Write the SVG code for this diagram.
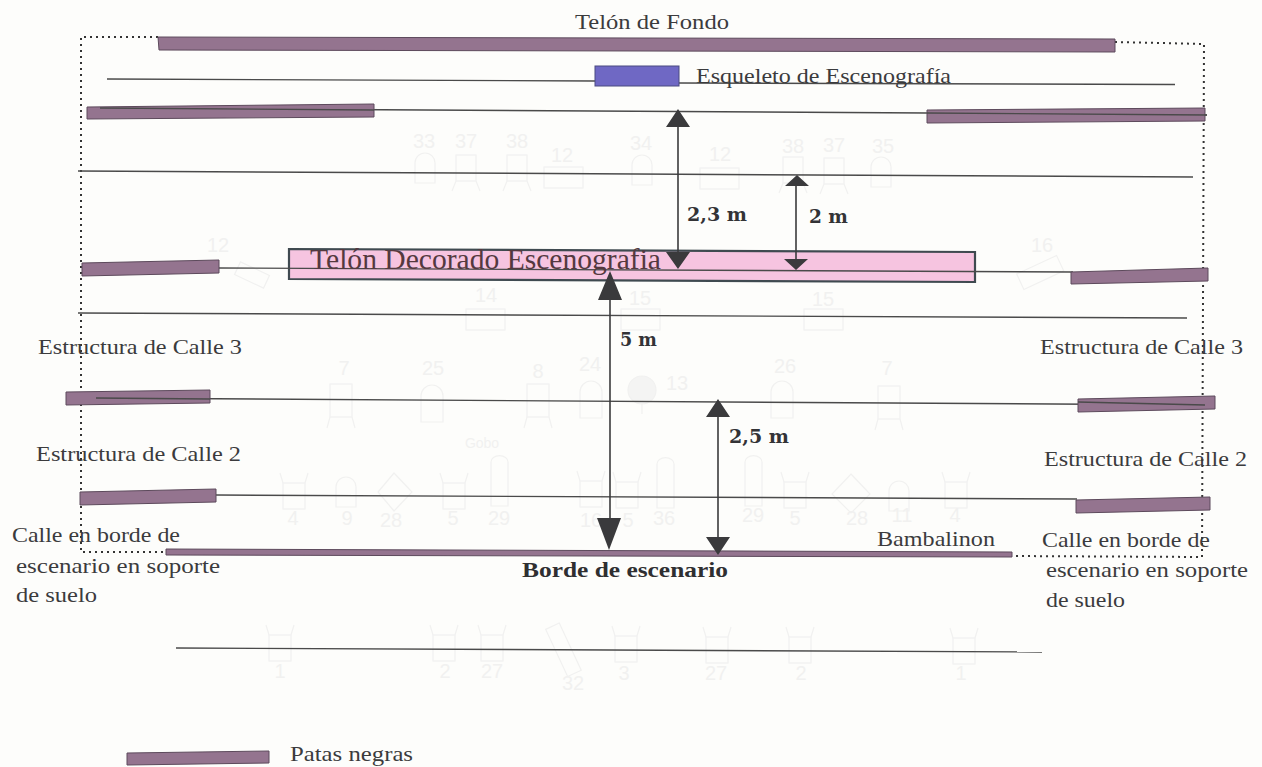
<svg xmlns="http://www.w3.org/2000/svg" xmlns:xlink="http://www.w3.org/1999/xlink" width="1262" height="767" viewBox="0 0 1262 767">
<style>
.t{font-family:"Liberation Serif","DejaVu Serif",serif;font-size:22px;fill:#3b3b3d}
.b{font-family:"DejaVu Serif","Liberation Serif",serif;font-weight:bold;font-size:18px;fill:#333336}
.g{font-family:"Liberation Sans",Arial,sans-serif;font-size:20px;fill:#f1f1f0;text-anchor:middle}
.gs{fill:none;stroke:#f1f1f0;stroke-width:1.2}
.pata{fill:#94748f;stroke:#5d4a5c;stroke-width:1}
.line{fill:none;stroke:#4a4a4a;stroke-width:1.4}
.dot{fill:none;stroke:#333;stroke-width:2;stroke-dasharray:2 4}
.arr{fill:none;stroke:#3a3a3c;stroke-width:1.6}
.head{fill:#3a3a3c}
</style>
<defs>
<g id="chair" class="gs"><rect x="0" y="0" width="22" height="26"/><path d="M0 0L-3 -10M22 0L25 -10"/></g>
<g id="chairb" class="gs"><rect x="0" y="0" width="20" height="26"/><path d="M0 26L-4 36M20 26L24 36"/></g>
<g id="chairc" class="gs"><rect x="0" y="0" width="22" height="33"/><path d="M0 33L-3 44M22 33L25 44"/></g>
<g id="round" class="gs"><path d="M0 30V10A10 10 0 0 1 20 10V30Z"/></g>
<g id="roundb" class="gs"><path d="M0 37V11A11 11 0 0 1 22 11V37Z"/></g>
<g id="box" class="gs"><rect x="0" y="0" width="39" height="21"/></g>
<g id="tall" class="gs"><path d="M0 50V6A8 6 0 0 1 17 6V50Z"/></g>
</defs>
<rect width="1262" height="767" fill="#fdfdfb"/>

<g id="ghost-plot">
<g class="g">
<text x="424" y="148">33</text><text x="466" y="148">37</text><text x="517" y="148">38</text><text x="562" y="162">12</text><text x="641" y="150">34</text><text x="720" y="161">12</text><text x="793" y="153">38</text><text x="834" y="152">37</text><text x="883" y="153">35</text>
<text x="218" y="252">12</text><text x="1042" y="252">16</text>
<text x="486" y="302">14</text><text x="640" y="305">15</text><text x="823" y="306">15</text>
<text x="344" y="375">7</text><text x="433" y="375">25</text><text x="538" y="378">8</text><text x="590" y="371">24</text><text x="677" y="390">13</text><text x="785" y="373">26</text><text x="887" y="375">7</text>
<text x="482" y="448" style="font-size:14px">Gobo</text>
<text x="293" y="525">4</text><text x="347" y="525">9</text><text x="391" y="527">28</text><text x="453" y="525">5</text><text x="499" y="525">29</text><text x="591" y="527">16</text><text x="628" y="527">5</text><text x="664" y="525">36</text><text x="753" y="522">29</text><text x="795" y="525">5</text><text x="857" y="525">28</text><text x="902" y="522">11</text><text x="955" y="522">4</text>
<text x="280" y="678">1</text><text x="445" y="678">2</text><text x="492" y="678">27</text><text x="573" y="690">32</text><text x="624" y="680">3</text><text x="716" y="680">27</text><text x="801" y="680">2</text><text x="961" y="680">1</text>
</g>
<use xlink:href="#round" x="415" y="153"/><use xlink:href="#chairb" x="456" y="155"/><use xlink:href="#chairb" x="507" y="155"/><use xlink:href="#box" x="544" y="167"/><use xlink:href="#round" x="632" y="155"/><use xlink:href="#box" x="700" y="168"/><use xlink:href="#chairb" x="783" y="157"/><use xlink:href="#chairb" x="824" y="158"/><use xlink:href="#round" x="871" y="157"/>
<rect class="gs" x="236" y="268" width="32" height="14" transform="rotate(25 252 275)"/>
<rect class="gs" x="1018" y="264" width="44" height="17" transform="rotate(-25 1040 272)"/>
<use xlink:href="#box" x="466" y="309"/><use xlink:href="#box" x="621" y="309"/><use xlink:href="#box" x="804" y="309"/>
<use xlink:href="#chairc" x="330" y="384"/><use xlink:href="#roundb" x="421" y="385"/><use xlink:href="#chairc" x="527" y="384"/><use xlink:href="#roundb" x="580" y="381"/>
<circle class="gs" cx="642" cy="390" r="14" style="fill:#f4f4f3"/><path class="gs" d="M642 404V414"/>
<use xlink:href="#roundb" x="771" y="381"/><use xlink:href="#chairc" x="878" y="386"/>
<use xlink:href="#chair" x="283" y="483"/><use xlink:href="#round" x="336" y="477"/><path class="gs" d="M394 473L412 492L394 511L378 492Z"/><use xlink:href="#chair" x="443" y="483"/><use xlink:href="#tall" x="491" y="456"/><use xlink:href="#chair" x="580" y="481"/><use xlink:href="#chair" x="616" y="482"/><use xlink:href="#tall" x="657" y="458"/><use xlink:href="#tall" x="745" y="456"/><use xlink:href="#chair" x="784" y="482"/><path class="gs" d="M851 474L870 494L851 513L832 494Z"/><use xlink:href="#round" x="889" y="481"/><use xlink:href="#chair" x="945" y="482"/>
<use xlink:href="#chair" x="269" y="635"/><use xlink:href="#chair" x="433" y="635"/><use xlink:href="#chair" x="481" y="635"/><rect class="gs" x="556" y="624" width="15" height="52" transform="rotate(-25 563 650)"/><use xlink:href="#chair" x="615" y="636"/><use xlink:href="#chair" x="706" y="637"/><use xlink:href="#chair" x="789" y="637"/><use xlink:href="#chair" x="953" y="638"/>
</g>

<g id="connectors">
<path class="dot" d="M158 37H81V552H167"/>
<path class="dot" d="M1115 42L1204 44L1202 557L1012 556"/>
<path class="line" d="M107 79L595 81M679 83L1175 84.500"/>
<path class="line" d="M100 108L927 113L1207 115"/>
<path class="line" d="M78 171L1193 177"/>
<path class="line" d="M78 313L1187 318"/>
<path class="line" d="M96 398L1205 405"/>
<path class="line" d="M216 495L1077 499"/>
<path class="line" d="M176 648L1042 652"/>
</g>

<g id="telon-fondo"><path class="pata" d="M158 37L1115 39V52L159 50Z"/><text class="t" x="575" y="29" textLength="154" lengthAdjust="spacingAndGlyphs">Telón de Fondo</text></g>
<g id="esqueleto"><rect x="595" y="66" width="84" height="20" fill="#6f68c4" stroke="#4b4a80"/><text class="t" x="696" y="83" textLength="255" lengthAdjust="spacingAndGlyphs">Esqueleto de Escenografía</text></g>
<g id="pata-1"><path class="pata" d="M87 107L374 104V117L87 119Z"/><path class="line" d="M100 108L374 110"/></g>
<g id="pata-2"><path class="pata" d="M927 110L1205 108V121L927 123Z"/><path class="line" d="M927 113L1207 115"/></g>
<g id="telon-decorado">
<path d="M289 249L975 252V282L289 279Z" fill="#f6c4e0" stroke="#3f4a50" stroke-width="2.200"/>
<path class="line" d="M219 268L1073 272"/>
<text x="310" y="269" textLength="351" lengthAdjust="spacingAndGlyphs" style="font-family:'Liberation Serif',serif;font-size:29px;fill:#54393f">Telón Decorado Escenografia</text>
</g>
<g id="pata-3"><path class="pata" d="M82 263L219 260V273L82 276Z"/></g>
<g id="pata-4"><path class="pata" d="M1071 272L1208 268V281L1071 284Z"/></g>
<g id="calle3-izq"><path class="pata" d="M66 392L210 390V403L66 405Z"/><path class="line" d="M96 398L210 399"/><text class="t" x="38" y="354" textLength="204" lengthAdjust="spacingAndGlyphs">Estructura de Calle 3</text></g>
<g id="calle3-der"><path class="pata" d="M1078 399L1215 396V409L1078 412Z"/><path class="line" d="M1078 402L1205 405"/><text class="t" x="1040" y="354" textLength="203" lengthAdjust="spacingAndGlyphs">Estructura de Calle 3</text></g>
<g id="calle2-izq"><path class="pata" d="M80 492L216 489V502L80 505Z"/><text class="t" x="36" y="461" textLength="205" lengthAdjust="spacingAndGlyphs">Estructura de Calle 2</text></g>
<g id="calle2-der"><path class="pata" d="M1076 500L1210 497V510L1076 513Z"/><text class="t" x="1044" y="466" textLength="203" lengthAdjust="spacingAndGlyphs">Estructura de Calle 2</text></g>
<g id="bambalinon"><path class="pata" d="M166 549L1012 552V557L166 555Z"/><text class="t" x="877" y="546" textLength="118" lengthAdjust="spacingAndGlyphs">Bambalinon</text></g>
<g id="borde"><text x="522" y="577" textLength="206" lengthAdjust="spacingAndGlyphs" style="font-family:'Liberation Serif',serif;font-weight:bold;font-size:21px;fill:#2f2f31">Borde de escenario</text></g>
<g id="calle-borde-izq"><text class="t" x="12" y="542" textLength="168" lengthAdjust="spacingAndGlyphs">Calle en borde de</text><text class="t" x="16" y="573" textLength="204" lengthAdjust="spacingAndGlyphs">escenario en soporte</text><text class="t" x="16" y="602" textLength="81" lengthAdjust="spacingAndGlyphs">de suelo</text></g>
<g id="calle-borde-der"><text class="t" x="1042" y="547" textLength="168" lengthAdjust="spacingAndGlyphs">Calle en borde de</text><text class="t" x="1046" y="577" textLength="202" lengthAdjust="spacingAndGlyphs">escenario en soporte</text><text class="t" x="1046" y="607" textLength="79" lengthAdjust="spacingAndGlyphs">de suelo</text></g>
<g id="leyenda"><path class="pata" d="M127 753L269 751V763L127 765Z" stroke="none"/><text class="t" x="290" y="761" textLength="123" lengthAdjust="spacingAndGlyphs">Patas negras</text></g>

<g id="cotas">
<path class="arr" d="M678 125V254"/><path class="head" d="M678 109L690 127H666ZM678 269L666 252H690Z"/>
<text class="b" x="687" y="221" textLength="60" lengthAdjust="spacingAndGlyphs">2,3 m</text>
<path class="arr" d="M796 185V260"/><path class="head" d="M797 175L809 186H785ZM796 270L784 259H808Z"/>
<text class="b" x="809" y="223" textLength="39" lengthAdjust="spacingAndGlyphs">2 m</text>
<path class="arr" d="M610 298V520"/><path class="head" d="M610 271L622 300H598ZM609 550L597 518H621Z"/>
<text class="b" x="620" y="346" textLength="37" lengthAdjust="spacingAndGlyphs">5 m</text>
<path class="arr" d="M718 415V539"/><path class="head" d="M718 399L730 417H706ZM718 555L706 537H730Z"/>
<text class="b" x="729" y="443" textLength="60" lengthAdjust="spacingAndGlyphs">2,5 m</text>
</g>
</svg>
